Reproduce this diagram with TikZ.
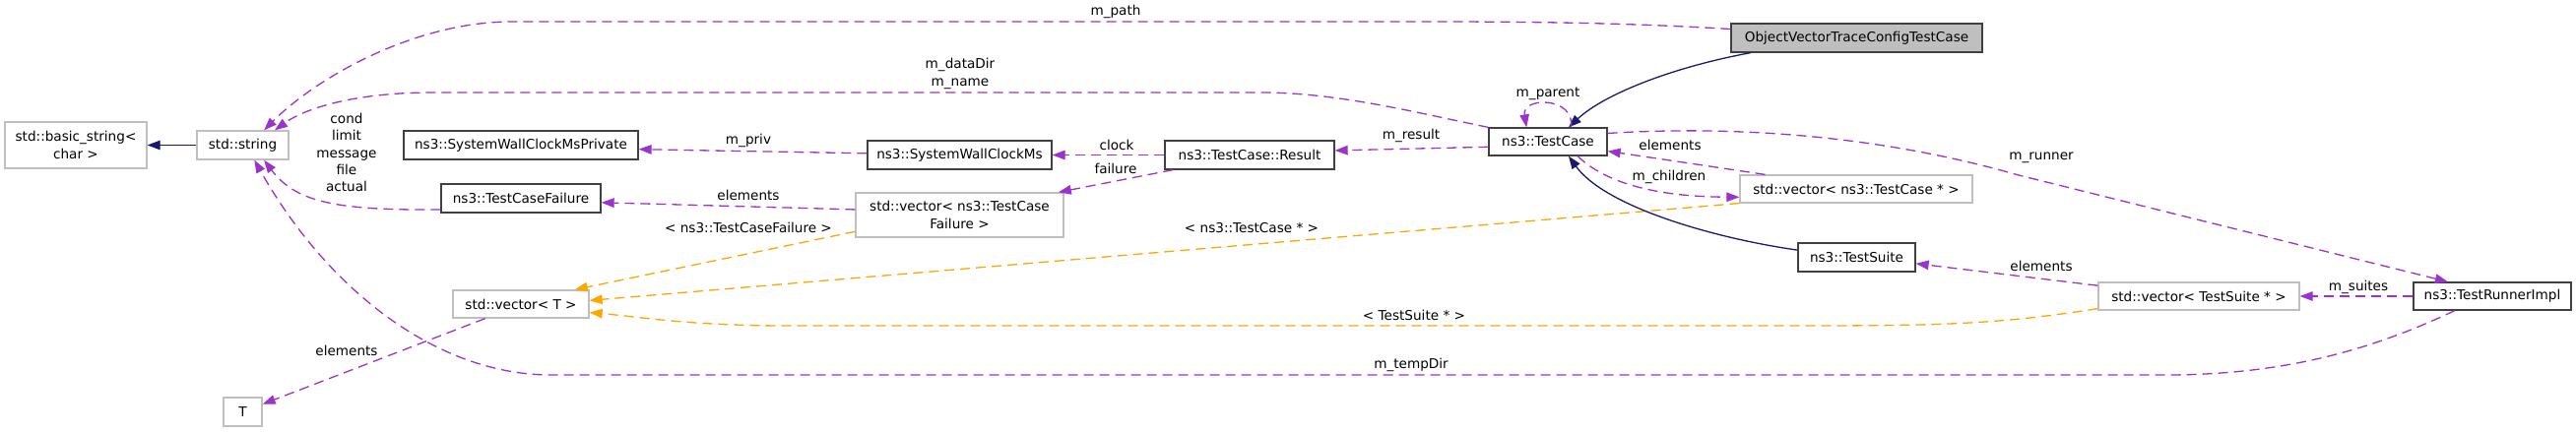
\documentclass[tikz,border=0pt]{standalone}
\usepackage{fontspec}
\setmainfont{DejaVu Sans}
\usetikzlibrary{arrows.meta}
\definecolor{refpurple}{HTML}{9A32CD}
\definecolor{reforange}{HTML}{FFA500}
\definecolor{refnavy}{HTML}{191970}
\definecolor{refgray}{HTML}{BFBFBF}

\begin{document}
\begin{tikzpicture}[x=1pt, y=-1pt, line width=1.3pt,
    every node/.style={font=\fontsize{13.6}{17.3}\selectfont, inner sep=0pt},
    cls/.style={draw=black!75, minimum height=29pt, align=center},
    ext/.style={cls, draw=refgray},
    tip/.style={-{Triangle[length=13pt, width=9.5pt]}},
    member/.style={tip, draw=refpurple, dash pattern=on 10pt off 6pt},
    templ/.style={member, draw=reforange},
    inherit/.style={tip, draw=refnavy}]
    \useasboundingbox (0,0) rectangle (2616,439);

    \node[ext, minimum width=144pt, minimum height=47pt] (bstr) at (77,147.5) {std::basic\_string<\\char >};
    \node[ext, minimum width=93pt] (str) at (246.5,147.5) {std::string};
    \node[cls, minimum width=238pt] (priv) at (529,147.5) {ns3::SystemWallClockMsPrivate};
    \node[cls, minimum width=162pt] (tcf) at (529,201.5) {ns3::TestCaseFailure};
    \node[ext, minimum width=138pt, minimum height=28pt] (vt) at (529,309) {std::vector< T >};
    \node[ext, minimum width=39pt] (t) at (246.5,418.5) {T};
    \node[cls, minimum width=187pt] (swcm) at (974.5,157.5) {ns3::SystemWallClockMs};
    \node[ext, minimum width=211pt, minimum height=45pt] (vtcf) at (974.5,218.5) {std::vector< ns3::TestCase\\Failure >};
    \node[cls, minimum width=172pt] (res) at (1269,157.5) {ns3::TestCase::Result};
    \node[cls, minimum width=120pt, minimum height=28pt] (tc) at (1572,144) {ns3::TestCase};
    \node[cls, fill=refgray, minimum width=255pt] (ovt) at (1885.5,38.5) {ObjectVectorTraceConfigTestCase};
    \node[ext, minimum width=236pt, minimum height=28pt] (vtc) at (1885,192) {std::vector< ns3::TestCase * >};
    \node[cls, minimum width=119pt] (ts) at (1885.5,261.5) {ns3::TestSuite};
    \node[ext, minimum width=204pt, minimum height=28pt] (vts) at (2233,301) {std::vector< TestSuite * >};
    \node[cls, minimum width=160pt, minimum height=28pt] (tri) at (2531,301) {ns3::TestRunnerImpl};

    \draw[inherit] (str) -- (bstr);
    \draw[member] (ovt.176) .. controls (1650,23) and (1550,22) .. (1450,22) -- (520,22) .. controls (420,22) and (320,80) .. (str.35);
    \draw[member] (tc.north west) .. controls (1440,115) and (1360,94) .. (1280,94) -- (440,94) .. controls (360,94) and (310,110) .. (str.25);
    \draw[member] (tcf.188) .. controls (340,214) and (300,205) .. (str.-35);
    \draw[member] (tri.-159) .. controls (2420,350) and (2330,381) .. (2200,381) -- (560,381) .. controls (440,381) and (330,290) .. (str.-52);
    \draw[member] (vt.-158) -- (t);
    \draw[member] (vtcf.177) -- (tcf.-3);
    \draw[templ] (vtcf.189) -- (vt.15);
    \draw[member] (swcm) -- (priv.-2);
    \draw[member] (res) -- (swcm);
    \draw[member] (res.-169) -- (vtcf.13);
    \draw[member] (tc.185) -- (res.3);
    \draw[inherit] (ovt.-172) .. controls (1700,68) and (1630,95) .. (tc.35);
    \draw[member] (tc.32) .. controls (1600,98) and (1545,98) .. (tc.146);
    \draw[member] (vtc.171) -- (tc.-9);
    \draw[member] (tc.-26) .. controls (1640,195) and (1710,200) .. (vtc.184);
    \draw[templ] (vtc.-173) -- (vt.3);
    \draw[inherit] (ts.173) .. controls (1740,242) and (1630,210) .. (tc.-35);
    \draw[member] (vts.174) -- (ts.-6);
    \draw[templ] (vts.-173) .. controls (2020,331) and (1960,331) .. (1800,331) -- (800,331) .. controls (700,331) and (650,322) .. (vt.-7);
    \draw[member] (tri) -- (vts);
    \draw[member] (tc.8) .. controls (1750,128) and (1900,135) .. (2050,178) -- (tri.162);

    \node (lpath) at (1133,12) {m\_path};
    \node[align=center] (ldir) at (975,75) {m\_dataDir\\m\_name};
    \node[align=center] (lcond) at (352,155) {cond\\limit\\message\\file\\actual};
    \node (ltemp) at (1433,371) {m\_tempDir};
    \node (ltel) at (352,356) {elements};
    \node (lfel) at (760,198) {elements};
    \node (lfail) at (760,231) {< ns3::TestCaseFailure >};
    \node (lpriv) at (760,143) {m\_priv};
    \node (lclock) at (1134,147) {clock};
    \node (lfailure) at (1133,171) {failure};
    \node (lres) at (1433,138) {m\_result};
    \node (lparent) at (1572,95) {m\_parent};
    \node (lcel) at (1696,147) {elements};
    \node (lchild) at (1695,180) {m\_children};
    \node (ltc) at (1271,232) {< ns3::TestCase * >};
    \node (lsel) at (2073,270) {elements};
    \node (lts) at (1436,320) {< TestSuite * >};
    \node (lsuites) at (2395,292) {m\_suites};
    \node (lrun) at (2073,160) {m\_runner};
\end{tikzpicture}
\end{document}
